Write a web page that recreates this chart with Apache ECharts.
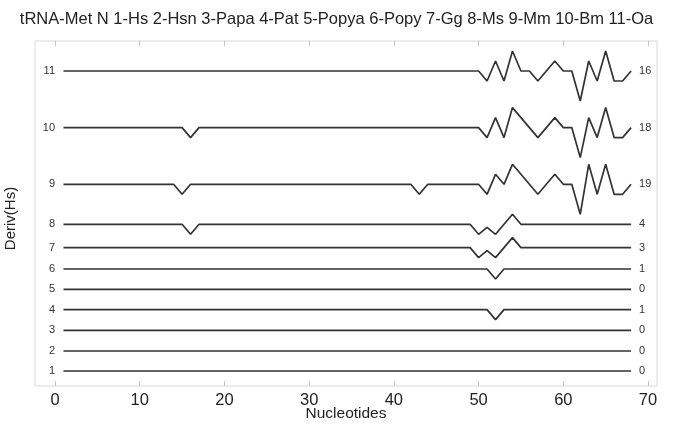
<!DOCTYPE html>
<html>
<head>
<meta charset="utf-8">
<script src="https://cdn.jsdelivr.net/npm/echarts@6/dist/echarts.min.js"></script>
<style>
  html, body { margin: 0; padding: 0; background: #fff; }
  #chart { width: 673px; height: 425px; }
</style>
</head>
<body>
<div id="chart"></div>
<script>
// Nucleotide positions along the tRNA
const sites = Array.from({ length: 68 }, (_, i) => i + 1);

// Species order (row 1 at the bottom)
const rowNames = ['1', '2', '3', '4', '5', '6', '7', '8', '9', '10', '11'];

// Number of differing sites for each row
const rowCounts = [0, 0, 0, 1, 0, 1, 3, 4, 19, 18, 16];

// Vertical baseline of each row on the Deriv(Hs) axis
const rowBase = [0, 2.0, 4.07, 6.14, 8.17, 10.2, 12.34, 14.67, 18.67, 24.34, 30.0];

// Non-zero derivative values per row: [site, value]
const dev1 = [];
const dev2 = [];
const dev3 = [];
const dev4 = [[52, -1]];
const dev5 = [];
const dev6 = [[52, -1]];
const dev7 = [[50, -1], [51, -0.3], [52, -1], [54, 1]];
const dev8 = [[16, -1], [50, -1], [51, -0.3], [52, -1], [54, 1]];
const dev9 = [[15, -1], [43, -1], [51, -1], [52, 1], [54, 2], [55, 1], [57, -1], [59, 1],
              [62, -3], [63, 2], [64, -1], [65, 2], [66, -1], [67, -1]];
const dev10 = [[16, -1], [51, -1], [52, 1], [53, -1], [54, 2], [55, 1], [57, -1], [59, 1],
               [62, -3], [63, 1], [64, -1], [65, 2], [66, -1], [67, -1]];
const dev11 = [[51, -1], [52, 1], [53, -1], [54, 2], [57, -1], [59, 1],
               [62, -3], [63, 1], [64, -1], [65, 2], [66, -1], [67, -1]];

const devs = [dev1, dev2, dev3, dev4, dev5, dev6, dev7, dev8, dev9, dev10, dev11];

const xTicks = [0, 10, 20, 30, 40, 50, 60, 70];

const FONT = 'Liberation Sans, Arial, Helvetica, sans-serif';

function rowData(k) {
  const map = new Map(devs[k]);
  return sites.map(s => [s, rowBase[k] + (map.get(s) || 0)]);
}

const series = rowNames.map((name, k) => ({
  name: name,
  type: 'line',
  data: rowData(k),
  symbol: 'none',
  showSymbol: false,
  animation: false,
  lineStyle: { color: '#333', width: 1.7 },
  endLabel: {
    show: true,
    formatter: String(rowCounts[k]),
    distance: 8,
    fontSize: 11,
    color: '#333',
    fontFamily: FONT
  }
}));

const xRange = { min: -2.36, max: 71.06 };
const tickStyle = { inside: true, length: 5, customValues: xTicks, lineStyle: { color: '#c4c4c4', width: 1 } };

const chart = echarts.init(document.getElementById('chart'), null, { renderer: 'canvas' });
chart.setOption({
  backgroundColor: '#fff',
  animation: false,
  title: {
    text: 'tRNA-Met N 1-Hs 2-Hsn 3-Papa 4-Pat 5-Popya 6-Popy 7-Gg 8-Ms 9-Mm 10-Bm 11-Oa',
    left: 'center',
    top: 6,
    textStyle: { fontSize: 16.5, fontWeight: 'normal', color: '#222', fontFamily: FONT }
  },
  grid: {
    left: 35, right: 16, top: 41, bottom: 39,
    containLabel: false,
    outerBoundsMode: 'none',
    show: true, borderColor: '#d9d9d9', borderWidth: 1, backgroundColor: '#fff'
  },
  xAxis: [
    {
      type: 'value',
      min: xRange.min, max: xRange.max,
      axisLine: { show: false, onZero: false },
      splitLine: { show: false },
      axisTick: tickStyle,
      axisLabel: { customValues: xTicks, margin: 6, fontSize: 16.5, color: '#222', fontFamily: FONT },
      name: 'Nucleotides',
      nameLocation: 'middle',
      nameGap: 20,
      nameMoveOverlap: false,
      nameTextStyle: { fontSize: 15.5, color: '#222', fontFamily: FONT }
    },
    {
      type: 'value',
      position: 'top',
      min: xRange.min, max: xRange.max,
      axisLine: { show: false, onZero: false },
      splitLine: { show: false },
      axisTick: tickStyle,
      axisLabel: { show: false }
    }
  ],
  yAxis: {
    type: 'value',
    min: -1.5, max: 33,
    offset: -28,
    axisLine: { show: false, onZero: false },
    axisTick: { show: false },
    splitLine: { show: false },
    axisLabel: {
      customValues: rowBase,
      margin: 8,
      fontSize: 11,
      color: '#333',
      fontFamily: FONT,
      formatter: function (v) {
        let best = 0;
        rowBase.forEach((b, i) => { if (Math.abs(b - v) < Math.abs(rowBase[best] - v)) best = i; });
        return rowNames[best];
      }
    },
    name: 'Deriv(Hs)',
    nameLocation: 'middle',
    nameGap: 45,
    nameMoveOverlap: false,
    nameTextStyle: { fontSize: 15, color: '#222', fontFamily: FONT, padding: [0, 10, 0, 0] }
  },
  series: series
});
</script>
</body>
</html>
